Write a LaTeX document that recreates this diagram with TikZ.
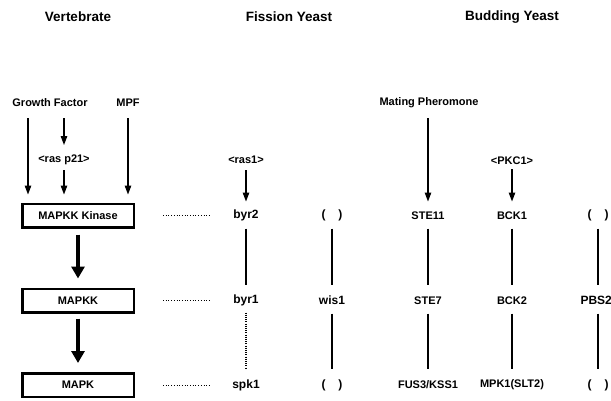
\documentclass[tikz,border=0pt]{standalone}
\usepackage{fontspec}
\setmainfont{Liberation Sans}
\usetikzlibrary{arrows.meta}

\begin{document}
\begin{tikzpicture}[x=1pt,y=-1pt,
	title/.style={font=\fontsize{13.5}{16}\selectfont\bfseries},
	lbl/.style={font=\fontsize{11}{13}\selectfont\bfseries},
	gene/.style={font=\fontsize{12}{14}\selectfont\bfseries},
	kbox/.style={draw,line width=2.5pt,minimum width=111.5pt,minimum height=23.5pt,
		inner sep=0pt,font=\fontsize{11}{13}\selectfont\bfseries},
	arr/.style={line width=1.2pt,-{Triangle[length=9pt,width=6.5pt]}},
	fat/.style={line width=4pt,-{Triangle[length=12pt,width=13pt]}},
	link/.style={line width=1.2pt,shorten <=13pt,shorten >=16pt},
	vdots/.style={line width=1.1pt,dash pattern=on 1pt off 1.2pt,shorten <=12pt,shorten >=16pt},
	hdots/.style={line width=0.7pt,dotted,shorten <=28pt,shorten >=35pt}]

\def\colV{78}
\def\colF{246}
\def\colW{332}
\def\colS{428}
\def\colB{512}
\def\colP{598}
\def\rowK{215.5}
\def\rowKK{300.5}
\def\rowM{385}
\def\gap{(\hspace{13pt})}

\useasboundingbox (0,0) rectangle (611,400);

% headings
\node[title] (vert) at (\colV,17) {Vertebrate};
\node[title] (fis) at (289,17) {Fission Yeast};
\node[title] (bud) at (\colB,17) {Budding Yeast};

% signals
\node[lbl] (gf) at (50,103) {Growth Factor};
\node[lbl] (mpf) at (128,103) {MPF};
\node[lbl] (mp) at (429,103) {Mating Pheromone};
\node[lbl] (rasp) at (64,160) {<ras p21>};
\node[lbl] (ras1) at (\colF,160) {<ras1>};
\node[lbl] (pkc1) at (\colB,161) {<PKC1>};

% vertebrate cascade
\node[kbox] (kin) at (\colV,\rowK) {MAPKK Kinase};
\node[kbox] (mkk) at (\colV,\rowKK) {MAPKK};
\node[kbox] (mk) at (\colV,\rowM) {MAPK};

% fission yeast
\node[gene] (byr2) at (\colF,\rowK) {byr2};
\node[gene] (byr1) at (\colF,\rowKK) {byr1};
\node[gene] (spk1) at (\colF,\rowM) {spk1};
\node[gene] (fa) at (\colW,\rowK) {\gap};
\node[gene] (wis1) at (\colW,\rowKK) {wis1};
\node[gene] (fb) at (\colW,\rowM) {\gap};

% budding yeast
\node[lbl] (ste11) at (\colS,\rowK) {STE11};
\node[lbl] (ste7) at (\colS,\rowKK) {STE7};
\node[lbl] (fus3) at (\colS,\rowM) {FUS3/KSS1};
\node[lbl] (bck1) at (\colB,\rowK) {BCK1};
\node[lbl] (bck2) at (\colB,\rowKK) {BCK2};
\node[lbl] (mpk1) at (\colB,\rowM) {MPK1(SLT2)};
\node[gene] (ba) at (\colP,\rowK) {\gap};
\node[gene,anchor=west] (pbs2) at (577,\rowKK) {PBS2};
\node[gene] (bb) at (\colP,\rowM) {\gap};

% inputs
\draw[arr,shorten <=15pt,shorten >=8pt] (gf.center -| 28,0) -- (kin.north -| 28,0);
\draw[arr,shorten <=15pt,shorten >=15pt] (gf.center -| rasp.center) -- (rasp.center);
\draw[arr,shorten <=10pt,shorten >=8pt] (rasp.center) -- (rasp.center |- kin.north);
\draw[arr,shorten <=15pt,shorten >=8pt] (mpf.center) -- (mpf.center |- kin.north);
\draw[arr,shorten <=15pt,shorten >=14pt] (mp.center -| ste11.center) -- (ste11.center);
\draw[arr,shorten <=10pt,shorten >=14pt] (ras1.center) -- (byr2.center);
\draw[arr,shorten <=8pt,shorten >=14pt] (pkc1.center) -- (bck1.center);

% vertebrate steps
\draw[fat,shorten <=6pt,shorten >=9pt] (kin.south) -- (mkk.north);
\draw[fat,shorten <=5pt,shorten >=9pt] (mkk.south) -- (mk.north);

% homologues
\draw[hdots] (kin.east) -- (byr2.center);
\draw[hdots] (mkk.east) -- (byr1.center);
\draw[hdots] (mk.east) -- (spk1.center);

% yeast pathways
\draw[link] (byr2.center) -- (byr1.center);
\draw[vdots] (byr1.center) -- (spk1.center);
\draw[link] (fa.center) -- (wis1.center);
\draw[link] (wis1.center) -- (fb.center);
\draw[link] (ste11.center) -- (ste7.center);
\draw[link] (ste7.center) -- (fus3.center);
\draw[link] (bck1.center) -- (bck2.center);
\draw[link] (bck2.center) -- (mpk1.center);
\draw[link] (ba.center) -- (ba.center |- pbs2.center);
\draw[link] (ba.center |- pbs2.center) -- (bb.center);

\end{tikzpicture}
\end{document}
